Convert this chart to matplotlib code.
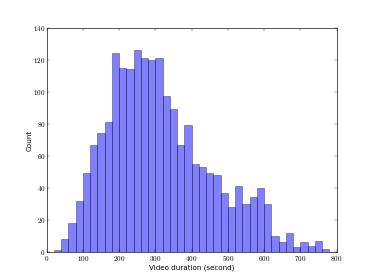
import numpy as np
import matplotlib
matplotlib.use("Agg")
import matplotlib.pyplot as plt
from matplotlib.ticker import FuncFormatter

# histogram counts, 20 s bins starting at 20 s
bin_edges = list(range(20, 800, 20))
counts = [1, 8, 18, 32, 49, 67, 74, 81, 124, 115,
          114, 126, 121, 120, 121, 97, 89, 67, 79, 55,
          53, 49, 48, 37, 28, 41, 30, 34, 40, 30,
          10, 6, 12, 3, 6, 4, 7, 2]

x_ticks = [0, 100, 200, 300, 400, 500, 600, 700, 800]
y_ticks = [0, 20, 40, 60, 80, 100, 120, 140]

plt.style.use('classic')
plt.rcParams['mathtext.fontset'] = 'cm'
plt.rcParams['xtick.major.pad'] = 2
plt.rcParams['ytick.major.pad'] = 2

fig = plt.figure(figsize=(8, 6), dpi=46.75, facecolor='white')
ax = fig.add_subplot(111)

ax.hist(bin_edges[:-1], bins=bin_edges, weights=counts,
        color='b', alpha=0.5, edgecolor='black', linewidth=1)

ax.set_xlim(0, 800)
ax.set_ylim(0, 140)
ax.set_xticks(x_ticks)
ax.set_yticks(y_ticks)
tex = FuncFormatter(lambda v, p: r'$%d$' % v)
ax.xaxis.set_major_formatter(tex)
ax.yaxis.set_major_formatter(tex)
ax.tick_params(labelsize=11)

ax.set_xlabel('Video duration (second)', fontsize=11, labelpad=2)
ax.set_ylabel('Count', fontsize=11, labelpad=1)

fig.savefig('out.png', dpi=46.75, facecolor='white')
